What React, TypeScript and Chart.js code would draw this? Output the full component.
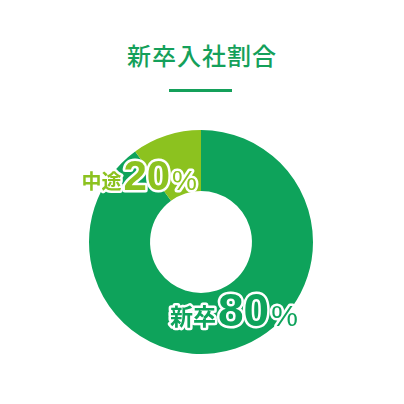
import React, { useEffect, useRef } from 'react';
import { Chart, registerables } from 'chart.js';

Chart.register(...registerables);

// datos del gráfico
const categories = ['新卒', '中途'];
const sliceValues = [90, 10];
const shareLabels = ['80', '20'];
const sliceColors = ['#0ea35b', '#8cc21f'];
const titleText = '新卒入社割合';

const NUM_FONT = '"Liberation Sans", Arial, sans-serif';
const JP_FONT = '"Noto Sans CJK JP", sans-serif';

// dibuja las etiquetas con borde blanco
const shareLabelPlugin = {
  id: 'shareLabels',
  afterDatasetsDraw(chart: any) {
    const ctx = chart.ctx;
    const arc = chart.getDatasetMeta(0).data[0];
    if (!arc) return;
    const { x, y, outerRadius } = arc;
    const r = outerRadius;

    // posición relativa al centro
    const layout = [
      { dx: -31 / 112, dy: 84 / 112, align: 'left', nameSize: 23, numSize: 46, pctSize: 30 },
      { dx: -4 / 112, dy: -52 / 112, align: 'right', nameSize: 20, numSize: 42, pctSize: 28 },
    ];

    ctx.save();
    ctx.textBaseline = 'alphabetic';
    ctx.textAlign = 'left';
    ctx.lineJoin = 'round';
    categories.forEach((name, i) => {
      const l = layout[i];
      const parts = [
        { text: name, font: `bold ${l.nameSize}px ${JP_FONT}`, lift: 1 },
        { text: shareLabels[i], font: `bold ${l.numSize}px ${NUM_FONT}`, lift: 0 },
        { text: '%', font: `${l.pctSize}px ${NUM_FONT}`, lift: 0 },
      ];
      const widths = parts.map((p) => {
        ctx.font = p.font;
        return ctx.measureText(p.text).width;
      });
      const gap = 2;
      const total = widths.reduce((a, b) => a + b, 0) + gap * (parts.length - 1);
      let cx = x + l.dx * r;
      if (l.align === 'right') cx -= total;
      const baseY = y + l.dy * r;
      parts.forEach((p, j) => {
        ctx.font = p.font;
        ctx.lineWidth = 5;
        ctx.strokeStyle = '#ffffff';
        ctx.strokeText(p.text, cx, baseY - p.lift);
        ctx.fillStyle = sliceColors[i];
        ctx.fillText(p.text, cx, baseY - p.lift);
        cx += widths[j] + gap;
      });
    });
    ctx.restore();
  },
};

const App: React.FC = () => {
  const chartRef = useRef<HTMLCanvasElement>(null);
  const chartInstance = useRef<Chart | null>(null);

  useEffect(() => {
    document.body.style.margin = '0';
    if (!chartRef.current) return;
    const ctx = chartRef.current.getContext('2d');
    if (!ctx) return;
    chartInstance.current = new Chart(ctx, {
      type: 'doughnut',
      data: {
        labels: categories,
        datasets: [
          {
            data: sliceValues,
            backgroundColor: sliceColors,
            borderWidth: 0,
          },
        ],
      },
      options: {
        animation: false,
        responsive: false,
        cutout: '45.5%',
        layout: { padding: { top: 130, bottom: 50, left: 0, right: 2 } },
        plugins: {
          legend: { display: false },
          tooltip: { enabled: false },
        },
      },
      plugins: [shareLabelPlugin],
    });

    return () => {
      if (chartInstance.current) {
        chartInstance.current.destroy();
        chartInstance.current = null;
      }
    };
  }, []);

  return (
    <div style={{ position: 'relative', width: 404, height: 404, background: '#fff' }}>
      <div
        style={{
          position: 'absolute',
          top: 38,
          left: 0,
          width: 404,
          textAlign: 'center',
          fontFamily: JP_FONT,
          fontSize: 24,
          fontWeight: 500,
          color: '#14a05a',
          lineHeight: '34px',
          letterSpacing: 1,
        }}
      >
        {titleText}
      </div>
      <div
        style={{
          position: 'absolute',
          top: 89,
          left: 169,
          width: 63,
          height: 3,
          background: '#14a05a',
        }}
      />
      <canvas
        ref={chartRef}
        width={404}
        height={404}
        style={{ position: 'absolute', top: 0, left: 0 }}
      ></canvas>
    </div>
  );
};

export default App;
